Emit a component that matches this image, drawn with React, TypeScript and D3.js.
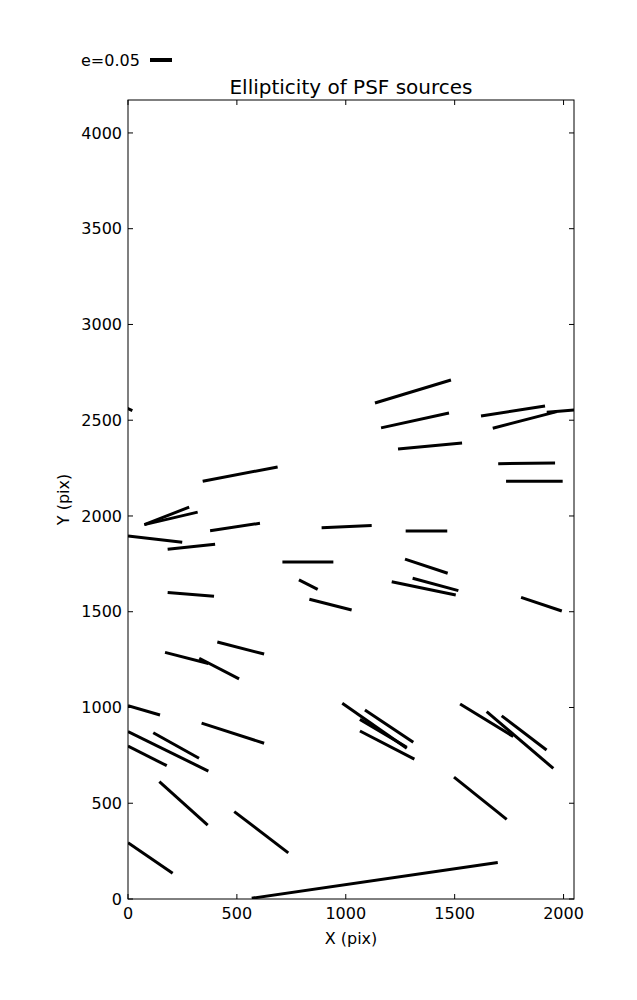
import React from "react";
import * as d3 from "d3";

// Whisker endpoints in data units (X pix, Y pix)
const segX0 = [1134, 1162, 1240, 1621, 1675, 1923, 1700, 1736, 343, 75, 75, 377, 0, 182, 889, 1275, 709, 785, 833, 182, 1272, 1307, 1211, 1805, 410, 170, 327, 0, 338, 0, 116, 0, 144, 0, 488, 568, 1497, 984, 1088, 1065, 1065, 1525, 1647, 1716, -60];
const segY0 = [2590, 2460, 2350, 2522, 2458, 2542, 2273, 2181, 2181, 1955, 1955, 1923, 1896, 1826, 1939, 1922, 1760, 1666, 1565, 1600, 1775, 1675, 1657, 1575, 1342, 1288, 1257, 1009, 918, 874, 868, 799, 613, 294, 456, 4, 636, 1022, 987, 877, 938, 1018, 978, 956, 2590];
const segX1 = [1483, 1474, 1534, 1915, 1969, 2121, 1961, 1996, 687, 281, 320, 606, 249, 400, 1119, 1466, 943, 871, 1027, 395, 1468, 1517, 1505, 1992, 625, 369, 510, 147, 625, 369, 326, 178, 366, 205, 736, 1698, 1739, 1280, 1310, 1315, 1280, 1769, 1953, 1922, 20];
const segY1 = [2710, 2538, 2381, 2574, 2545, 2560, 2277, 2181, 2256, 2046, 2020, 1962, 1863, 1852, 1950, 1922, 1760, 1617, 1509, 1581, 1701, 1610, 1587, 1504, 1279, 1230, 1149, 961, 813, 668, 735, 696, 386, 134, 241, 191, 416, 787, 818, 730, 792, 848, 682, 778, 2550];

const xTicks = [0, 500, 1000, 1500, 2000];
const yTicks = [0, 500, 1000, 1500, 2000, 2500, 3000, 3500, 4000];
const xDomain = [0, 2048];
const yDomain = [0, 4172];
const legendLabel = "e=0.05";
const title = "Ellipticity of PSF sources";

export default function App() {
  const W = 637, H = 1000;
  const L = 128, R = 574, T = 100, B = 899;
  const x = d3.scaleLinear().domain(xDomain).range([L, R]);
  const y = d3.scaleLinear().domain(yDomain).range([B, T]);
  const font = "DejaVu Sans, sans-serif";
  const tl = 5;
  return (
    <svg width={W} height={H} style={{ position: "absolute", left: 0, top: 0, background: "#fff" }}>
      <defs>
        <clipPath id="plotclip">
          <rect x={L} y={T} width={R - L} height={B - T} />
        </clipPath>
      </defs>
      <rect x={0} y={0} width={W} height={H} fill="#fff" />
      <g clipPath="url(#plotclip)">
        {segX0.map((_, i) => (
          <line key={i} x1={x(segX0[i])} y1={y(segY0[i])} x2={x(segX1[i])} y2={y(segY1[i])}
            stroke="#000" strokeWidth={3} />
        ))}
      </g>
      <rect x={L} y={T} width={R - L} height={B - T} fill="none" stroke="#000" strokeWidth={1} />
      {xTicks.map((t) => (
        <g key={"x" + t}>
          <line x1={x(t)} x2={x(t)} y1={B} y2={B - tl} stroke="#000" />
          <line x1={x(t)} x2={x(t)} y1={T} y2={T + tl} stroke="#000" />
          <text x={x(t)} y={919} textAnchor="middle" fontFamily={font} fontSize={16}>{t}</text>
        </g>
      ))}
      {yTicks.map((t) => (
        <g key={"y" + t}>
          <line x1={L} x2={L + tl} y1={y(t)} y2={y(t)} stroke="#000" />
          <line x1={R} x2={R - tl} y1={y(t)} y2={y(t)} stroke="#000" />
          <text x={122} y={y(t)} dy="0.36em" textAnchor="end" fontFamily={font} fontSize={16}>{t}</text>
        </g>
      ))}
      <text x={(L + R) / 2} y={944} textAnchor="middle" fontFamily={font} fontSize={16}>X (pix)</text>
      <text transform={`translate(69,${(T + B) / 2}) rotate(-90)`} textAnchor="middle" fontFamily={font} fontSize={16}>Y (pix)</text>
      <text x={(L + R) / 2} y={94} textAnchor="middle" fontFamily={font} fontSize={20}>{title}</text>
      <text x={81} y={66} fontFamily={font} fontSize={16}>{legendLabel}</text>
      <line x1={150} x2={172} y1={60} y2={60} stroke="#000" strokeWidth={4} />
    </svg>
  );
}
